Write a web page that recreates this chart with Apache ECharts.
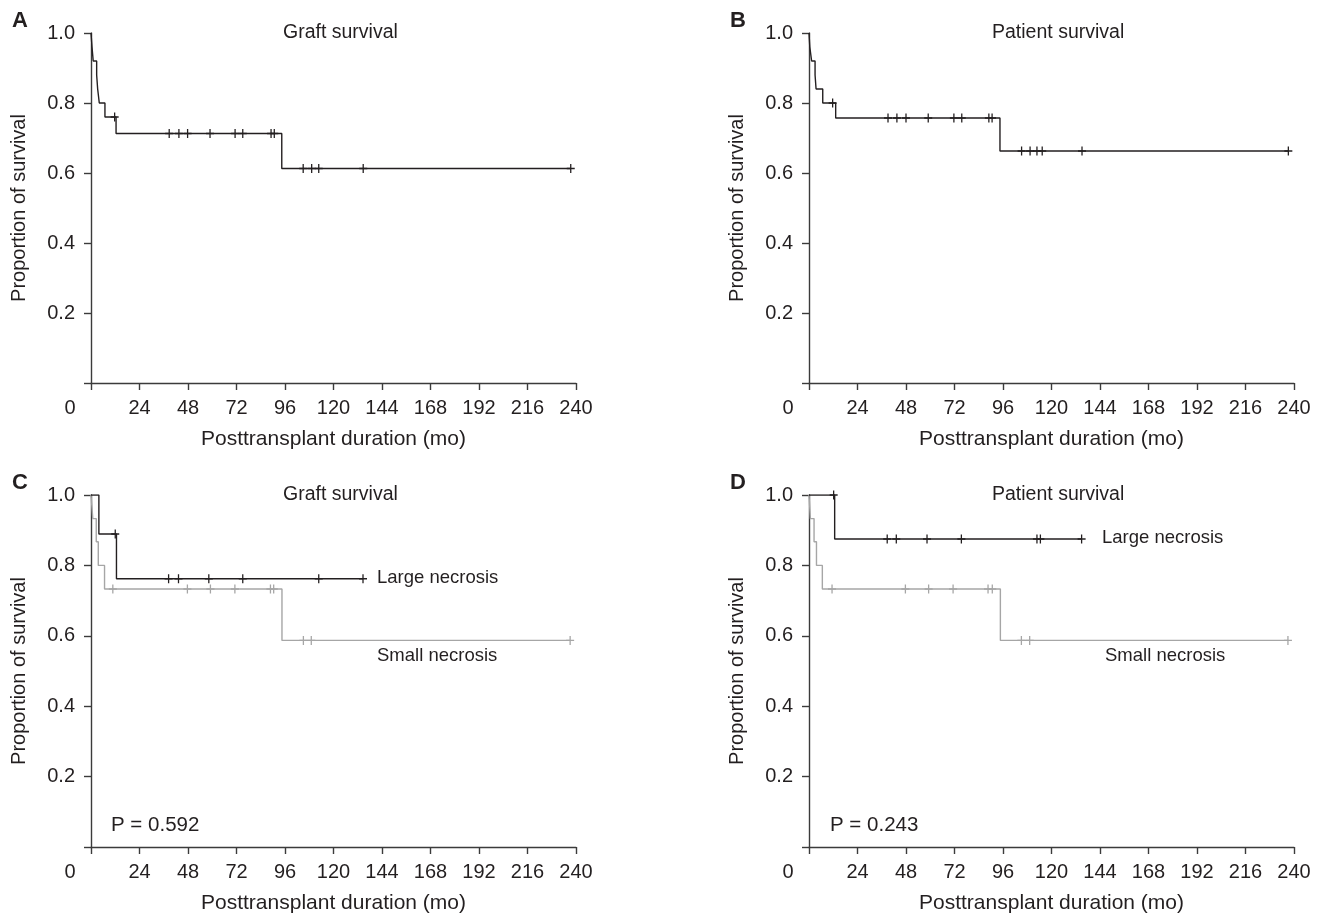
<!DOCTYPE html>
<html><head><meta charset="utf-8">
<script src="https://cdn.jsdelivr.net/npm/echarts@6/dist/echarts.min.js"></script>
<style>html,body{margin:0;padding:0;background:#fff}#c{width:1323px;height:917px}</style>
</head><body><div id="c"></div>
<script>
// ---------- data ----------
const xTickValues = [0, 24, 48, 72, 96, 120, 144, 168, 192, 216, 240];
const yTickValues = [0, 0.2, 0.4, 0.6, 0.8, 1.0];
const panelLetters = ['A', 'B', 'C', 'D'];
const panelTitles = ['Graft survival', 'Patient survival', 'Graft survival', 'Patient survival'];
const xAxisName = 'Posttransplant duration (mo)';
const yAxisName = 'Proportion of survival';
const groupNames = ['Large necrosis', 'Small necrosis'];
const pValues = ['P = 0.592', 'P = 0.243'];

// Panel A: graft survival (all)
const aStepTime = [0, 0.5, 1.1, 2.8, 3.3, 4.1, 6.9, 12.4, 94.4, 237.4];
const aStepSurv = [1.0, 0.96, 0.92, 0.88, 0.84, 0.80, 0.76, 0.713, 0.613, 0.613];
const aCensorTime = [11.7, 38.7, 43.5, 47.8, 58.9, 71.3, 75.1, 89.1, 90.7, 105.0, 109.2, 112.7, 134.7, 237.4];
const aCensorSurv = [0.76, 0.713, 0.713, 0.713, 0.713, 0.713, 0.713, 0.713, 0.713, 0.613, 0.613, 0.613, 0.613, 0.613];

// Panel B: patient survival (all)
const bStepTime = [0, 0.4, 1.3, 3.0, 3.5, 6.8, 13.2, 94.5, 237.2];
const bStepSurv = [1.0, 0.96, 0.92, 0.88, 0.84, 0.80, 0.757, 0.663, 0.663];
const bCensorTime = [11.7, 39.1, 43.5, 48.0, 59.0, 71.7, 75.6, 89.0, 90.6, 105.2, 109.4, 112.8, 115.4, 135.1, 237.2];
const bCensorSurv = [0.80, 0.757, 0.757, 0.757, 0.757, 0.757, 0.757, 0.757, 0.757, 0.663, 0.663, 0.663, 0.663, 0.663, 0.663];

// Panel C: graft survival by necrosis size
const cLargeStepTime = [0, 3.9, 12.6, 134.6];
const cLargeStepSurv = [1.0, 0.889, 0.762, 0.762];
const cLargeCensorTime = [12.0, 38.4, 43.3, 58.3, 75.1, 112.7, 134.6];
const cLargeCensorSurv = [0.889, 0.762, 0.762, 0.762, 0.762, 0.762, 0.762];
const cSmallStepTime = [0, 0.9, 2.6, 3.6, 6.7, 94.5, 237.1];
const cSmallStepSurv = [1.0, 0.933, 0.867, 0.80, 0.733, 0.587, 0.587];
const cSmallCensorTime = [10.8, 47.7, 59.1, 71.2, 88.8, 90.4, 105.1, 109.0, 237.1];
const cSmallCensorSurv = [0.733, 0.733, 0.733, 0.733, 0.733, 0.733, 0.587, 0.587, 0.587];

// Panel D: patient survival by necrosis size
const dLargeStepTime = [0, 12.7, 134.9];
const dLargeStepSurv = [1.0, 0.875, 0.875];
const dLargeCensorTime = [12.2, 38.7, 43.2, 58.4, 75.4, 112.8, 114.5, 134.9];
const dLargeCensorSurv = [1.0, 0.875, 0.875, 0.875, 0.875, 0.875, 0.875, 0.875];
const dSmallStepTime = [0, 0.7, 2.5, 3.7, 6.6, 94.7, 237.0];
const dSmallStepSurv = [1.0, 0.933, 0.867, 0.80, 0.733, 0.587, 0.587];
const dSmallCensorTime = [11.4, 47.7, 59.2, 71.3, 88.6, 90.7, 105.1, 109.2, 237.0];
const dSmallCensorSurv = [0.733, 0.733, 0.733, 0.733, 0.733, 0.733, 0.587, 0.587, 0.587];

// ---------- styling ----------
const FONT = '"Liberation Sans", Arial, Helvetica, sans-serif';
const TXT = '#231f20';
const AXIS = '#3b3b3b';
const DARK = '#231f20';
const GRAY = '#a6a6a6';
const CROSS = 'path://M-0.16,-1H0.16V1H-0.16Z M-1,-0.16H1V0.16H-1Z';

const grids = [
  { left: 91, top: 33, width: 485, height: 350 },
  { left: 809, top: 33, width: 485, height: 350 },
  { left: 91, top: 495, width: 485, height: 352 },
  { left: 809, top: 495, width: 485, height: 352 }
];

function zip(t, s) { return t.map((v, i) => [v, s[i]]); }

const xAxes = grids.map((g, i) => ({
  gridIndex: i, type: 'value', min: 0, max: 240, interval: 24,
  name: xAxisName, nameLocation: 'middle', nameGap: 46,
  nameTextStyle: { fontFamily: FONT, fontSize: 21, color: TXT },
  axisLine: { show: true, onZero: false, lineStyle: { color: AXIS, width: 1.4 } },
  axisTick: { show: true, inside: false, length: 7, lineStyle: { color: AXIS, width: 1.4 } },
  axisLabel: {
    margin: 15, fontFamily: FONT, fontSize: 20, color: TXT,
    formatter: v => v === 0 ? '{z|0}' : String(v),
    rich: { z: { fontFamily: FONT, fontSize: 20, color: TXT, padding: [0, 42, 0, 0] } }
  },
  splitLine: { show: false }
}));

const yAxes = grids.map((g, i) => ({
  gridIndex: i, type: 'value', min: 0, max: 1, interval: 0.2,
  name: yAxisName, nameLocation: 'middle', nameGap: 62, nameRotate: 90,
  nameTextStyle: { fontFamily: FONT, fontSize: 20, color: TXT },
  axisLine: { show: true, onZero: false, lineStyle: { color: AXIS, width: 1.4 } },
  axisTick: { show: true, inside: false, length: 7, lineStyle: { color: AXIS, width: 1.4 } },
  axisLabel: {
    margin: 16, fontFamily: FONT, fontSize: 20, color: TXT,
    formatter: v => v === 0 ? '' : v.toFixed(1)
  },
  splitLine: { show: false }
}));

function stepSeries(idx, t, s, color) {
  return {
    type: 'line', xAxisIndex: idx, yAxisIndex: idx, step: 'end',
    data: zip(t, s), showSymbol: false, symbol: 'none', silent: true,
    lineStyle: { color: color, width: 1.4 }, z: color === GRAY ? 2 : 3, animation: false
  };
}
function censorSeries(idx, t, s, color) {
  return {
    type: 'scatter', xAxisIndex: idx, yAxisIndex: idx,
    data: zip(t, s), symbol: CROSS, symbolSize: [8, 9], silent: true,
    itemStyle: { color: color, opacity: 1 }, z: color === GRAY ? 2 : 4, animation: false
  };
}

const series = [
  stepSeries(0, aStepTime, aStepSurv, DARK), censorSeries(0, aCensorTime, aCensorSurv, DARK),
  stepSeries(1, bStepTime, bStepSurv, DARK), censorSeries(1, bCensorTime, bCensorSurv, DARK),
  stepSeries(2, cSmallStepTime, cSmallStepSurv, GRAY), censorSeries(2, cSmallCensorTime, cSmallCensorSurv, GRAY),
  stepSeries(2, cLargeStepTime, cLargeStepSurv, DARK), censorSeries(2, cLargeCensorTime, cLargeCensorSurv, DARK),
  stepSeries(3, dSmallStepTime, dSmallStepSurv, GRAY), censorSeries(3, dSmallCensorTime, dSmallCensorSurv, GRAY),
  stepSeries(3, dLargeStepTime, dLargeStepSurv, DARK), censorSeries(3, dLargeCensorTime, dLargeCensorSurv, DARK)
];

function txt(x, y, s, opts) {
  return {
    type: 'text', x: x, y: y, silent: true,
    style: Object.assign({ text: s, fontFamily: FONT, fontSize: 18.5, fill: TXT, textVerticalAlign: 'middle', textAlign: 'left' }, opts || {})
  };
}

const graphic = [
  txt(12, 21, panelLetters[0], { fontSize: 22, fontWeight: 'bold' }),
  txt(730, 21, panelLetters[1], { fontSize: 22, fontWeight: 'bold' }),
  txt(12, 483, panelLetters[2], { fontSize: 22, fontWeight: 'bold' }),
  txt(730, 483, panelLetters[3], { fontSize: 22, fontWeight: 'bold' }),
  txt(283, 33, panelTitles[0], { fontSize: 19.5 }),
  txt(992, 33, panelTitles[1], { fontSize: 19.5 }),
  txt(283, 495, panelTitles[2], { fontSize: 19.5 }),
  txt(992, 495, panelTitles[3], { fontSize: 19.5 }),
  txt(377, 578, groupNames[0]),
  txt(377, 656, groupNames[1]),
  txt(1102, 538, groupNames[0]),
  txt(1105, 656, groupNames[1]),
  txt(111, 825, pValues[0], { fontSize: 20.5 }),
  txt(830, 825, pValues[1], { fontSize: 20.5 })
];

const chart = echarts.init(document.getElementById('c'), null, { renderer: 'canvas' });
chart.setOption({
  animation: false,
  backgroundColor: '#ffffff',
  grid: grids,
  xAxis: xAxes,
  yAxis: yAxes,
  series: series,
  graphic: graphic
});
</script>
</body></html>
